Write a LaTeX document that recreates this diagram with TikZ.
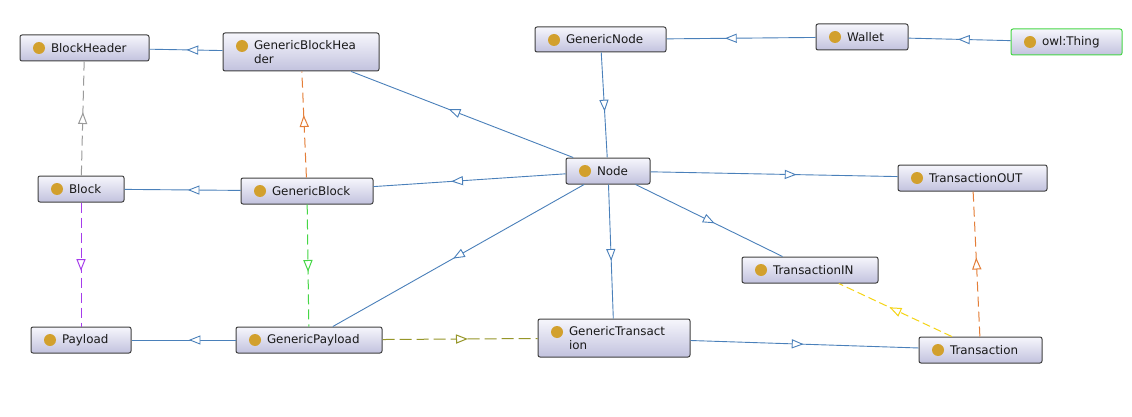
\documentclass[tikz,border=0pt]{standalone}
\usepackage{fontspec}
\setmainfont{DejaVu Sans}
\usetikzlibrary{decorations.markings}
\definecolor{edgeblue}{RGB}{74,128,186}
\definecolor{dotgold}{RGB}{210,160,45}
\definecolor{boxborder}{RGB}{64,64,64}
\definecolor{boxtop}{RGB}{246,246,252}
\definecolor{boxbot}{RGB}{194,194,222}
\definecolor{owlgreen}{RGB}{70,215,70}
\definecolor{dgray}{RGB}{155,155,155}
\definecolor{dorange}{RGB}{228,126,56}
\definecolor{dpurple}{RGB}{165,60,235}
\definecolor{dgreen}{RGB}{70,215,70}
\definecolor{dolive}{RGB}{150,150,40}
\definecolor{dyellow}{RGB}{245,212,20}
\definecolor{txt}{RGB}{25,25,25}
\newcommand{\ind}{\hspace*{31pt}}
\tikzset{
  cls/.style={rectangle, rounded corners=2pt, draw=boxborder, line width=1pt,
    top color=boxtop, bottom color=boxbot, text width=#1, inner xsep=0pt, inner ysep=0pt,
    align=left, text=txt, font=\fontsize{11.9}{14}\selectfont,
    path picture={\fill[dotgold] ([xshift=19pt,yshift=-13pt]path picture bounding box.north west) circle[radius=6pt];}},
  isaline/.style={draw=edgeblue, line width=0.9pt},
  dlines/.style={line width=1pt, dash pattern=on 10pt off 5pt},
}
\newcommand{\isarel}[3][]{%
  \draw[isaline,#1] (#2) -- (#3);
  \path[decorate,decoration={markings,mark=at position 0.5 with {\draw[isaline,#1,solid,fill=white,line join=miter] (5pt,0pt) -- (-5pt,4pt) -- (-5pt,-4pt) -- cycle;}}] (#2.center) -- (#3.center);
}
\begin{document}
\begin{tikzpicture}[x=1pt,y=-1pt]
\useasboundingbox[fill=white] (0,0) rectangle (1132,417);
% classes
\node[cls=129pt, minimum height=26pt] (bh) at (84.5,48) {\ind BlockHeader};
\node[cls=156pt, minimum height=38pt] (gbh) at (301,52) {\ind GenericBlockHea\\\ind der};
\node[cls=86pt, minimum height=26pt] (blk) at (81,189) {\ind Block};
\node[cls=132pt, minimum height=26pt] (gb) at (307,191) {\ind GenericBlock};
\node[cls=131pt, minimum height=25pt] (gn) at (600.5,39.5) {\ind GenericNode};
\node[cls=84pt, minimum height=26pt] (nd) at (608,171) {\ind Node};
\node[cls=92pt, minimum height=26pt] (wal) at (862,37) {\ind Wallet};
\node[cls=111pt, minimum height=26pt, draw=owlgreen] (owl) at (1066.5,42) {\ind owl:Thing};
\node[cls=149pt, minimum height=26pt] (tout) at (972.5,178) {\ind TransactionOUT};
\node[cls=100pt, minimum height=26pt] (pay) at (81,340) {\ind Payload};
\node[cls=146pt, minimum height=26pt] (gp) at (309,340) {\ind GenericPayload};
\node[cls=152pt, minimum height=38pt] (gt) at (614,338) {\ind GenericTransact\\\ind ion};
\node[cls=136pt, minimum height=26pt] (tin) at (810,270) {\ind TransactionIN};
\node[cls=123pt, minimum height=26pt] (tr) at (980.5,350) {\ind Transaction};
% solid subclass links
\isarel{gbh}{bh}
\isarel{gb}{blk}
\isarel{nd}{gbh}
\isarel{nd}{gb}
\isarel{wal}{gn}
\isarel{owl}{wal}
\isarel{gn}{nd}
\isarel{nd}{tout}
\isarel{nd}{tin}
\isarel{nd}{gt}
\isarel{nd}{gp}
\isarel{gp}{pay}
\isarel{gt}{tr}
% dashed links
\isarel[draw=dgray,dlines]{blk}{bh}
\isarel[draw=dorange,dlines]{gb}{gbh}
\isarel[draw=dpurple,dlines]{blk}{pay}
\isarel[draw=dgreen,dlines]{gb}{gp}
\isarel[draw=dolive,dlines,dash pattern=on 12pt off 5pt]{gp}{gt}
\isarel[draw=dyellow,dlines,dash pattern=on 8pt off 4pt]{tr}{tin}
\isarel[draw=dorange,dlines]{tr}{tout}
\end{tikzpicture}
\end{document}
